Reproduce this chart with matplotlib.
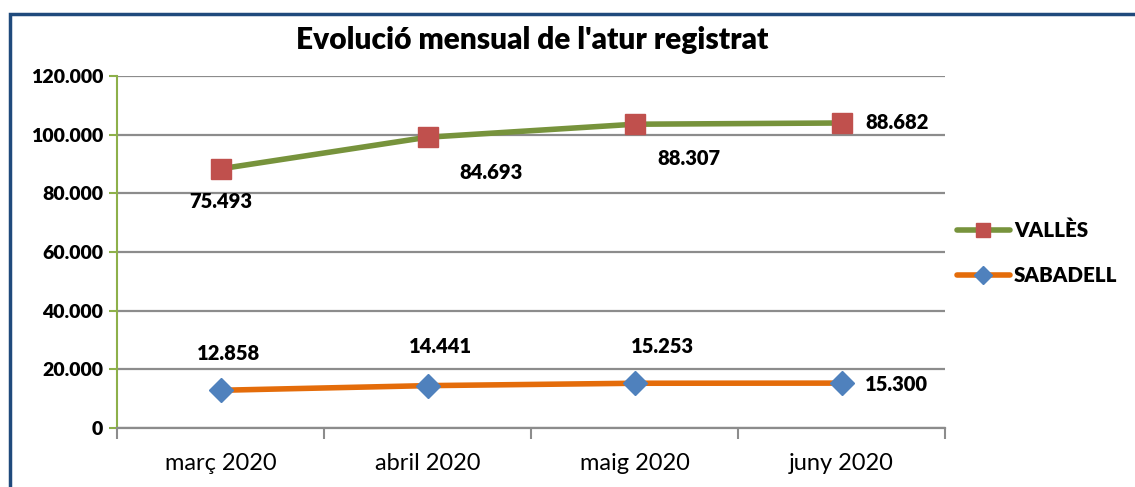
import matplotlib.pyplot as plt
import matplotlib.patches as mpatches
from matplotlib.ticker import FuncFormatter, FixedLocator
import numpy as np

plt.rcParams['font.family'] = ['Lato', 'DejaVu Sans']

# Data (stacked line chart: Vallès drawn on top of Sabadell)
months = ['març 2020', 'abril 2020', 'maig 2020', 'juny 2020']
sabadell = [12858, 14441, 15253, 15300]
valles = [75493, 84693, 88307, 88682]
yticks = [0, 20000, 40000, 60000, 80000, 100000, 120000]

GREEN = '#77933C'
RED = '#C0504D'
ORANGE = '#E46C0A'
BLUE = '#4F81BD'
GRID = '#8C8C8C'
BOLD = 'heavy'

fig = plt.figure(figsize=(11.35, 4.87), dpi=100)
ax = fig.add_axes([117 / 1135, 1 - 428 / 487, 828 / 1135, 352 / 487])

x = np.arange(len(months))
valles_top = np.array(sabadell) + np.array(valles)

ax.plot(x, valles_top, color=GREEN, lw=4, marker='s', ms=14,
        mfc=RED, mec=RED, label='VALLÈS', zorder=4, solid_capstyle='round')
ax.plot(x, sabadell, color=ORANGE, lw=4, marker='D', ms=12,
        mfc=BLUE, mec=BLUE, label='SABADELL', zorder=4, solid_capstyle='round')

# data labels
v_off = [(0, -33), (63, -35), (54, -34), (56, 0)]
s_off = [(8, 37), (13, 39), (28, 37), (55, -1)]
for i in range(len(months)):
    ax.annotate(f"{valles[i]:,}".replace(',', '.'), (x[i], valles_top[i]),
                xytext=v_off[i], textcoords='offset pixels', ha='center', va='center',
                fontsize=14.5, fontweight=BOLD, color='black', zorder=5)
    ax.annotate(f"{sabadell[i]:,}".replace(',', '.'), (x[i], sabadell[i]),
                xytext=s_off[i], textcoords='offset pixels', ha='center', va='center',
                fontsize=14.5, fontweight=BOLD, color='black', zorder=5)

ax.set_xlim(-0.5, len(months) - 0.5)
ax.set_ylim(0, 120000)
ax.set_yticks(yticks)
ax.yaxis.set_major_formatter(FuncFormatter(lambda v, p: f"{int(v):,}".replace(',', '.')))
for lab in ax.get_yticklabels():
    lab.set_fontweight(BOLD)
ax.tick_params(axis='y', labelsize=14, colors='#8DB04A', length=6, width=1.5,
               labelcolor='black', pad=4)

# category labels between boundary ticks
ax.xaxis.set_major_locator(FixedLocator(np.arange(-0.5, len(months), 1.0)))
ax.xaxis.set_minor_locator(FixedLocator(x))
ax.set_xticklabels([''] * (len(months) + 1))
ax.set_xticklabels(months, minor=True)
ax.tick_params(axis='x', which='major', length=8, width=1.5, colors=GRID)
ax.tick_params(axis='x', which='minor', length=0, labelsize=17, labelcolor='black', pad=18)

ax.grid(axis='y', color=GRID, lw=1.6)
ax.set_axisbelow(True)
for s in ['top', 'right']:
    ax.spines[s].set_visible(False)
ax.spines['left'].set_color('#8DB04A')
ax.spines['left'].set_linewidth(1.5)
ax.spines['bottom'].set_color(GRID)
ax.spines['bottom'].set_linewidth(1.6)

fig.text(532 / 1135, 1 - 40 / 487, "Evolució mensual de l'atur registrat",
         ha='center', va='center', fontsize=21.5, fontweight=BOLD)

leg = fig.legend(loc='upper left', bbox_to_anchor=(938 / 1135, 1 - 202 / 487),
                 frameon=False, handlelength=2.6, handletextpad=0.2, markerscale=0.75,
                 labelspacing=1.25, prop={'weight': BOLD, 'size': 14.8})

# chart border (only left and top visible)
fig.patches.append(mpatches.Rectangle((9.5 / 1135, -0.2), 1.5, 1 - 13.5 / 487 + 0.2,
                                      transform=fig.transFigure, fill=False,
                                      ec='#1F4A7C', lw=2.5))

fig.savefig('out.png', dpi=100)
